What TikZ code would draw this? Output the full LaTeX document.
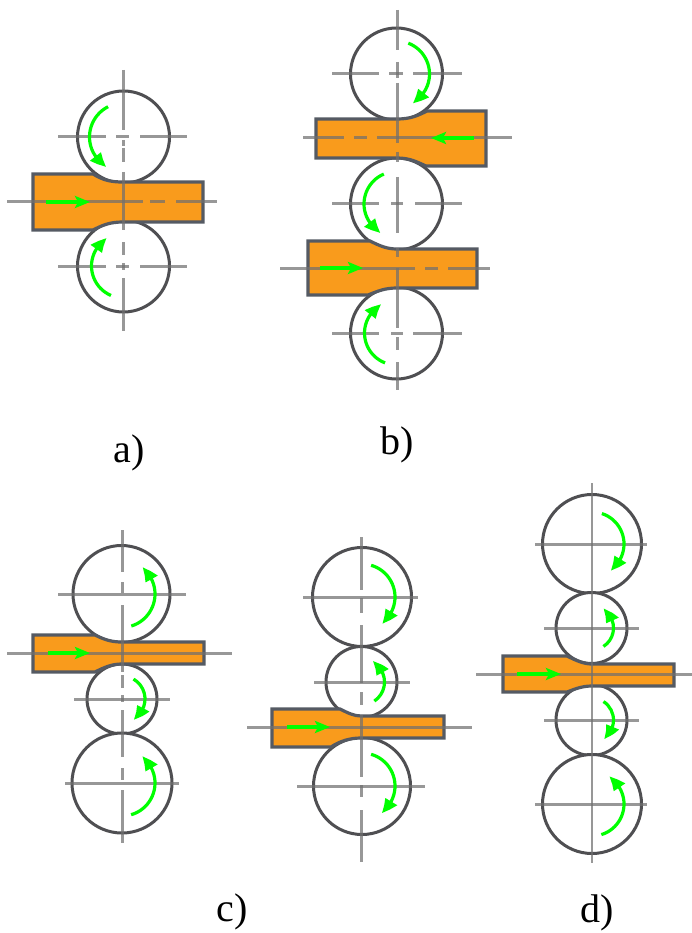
\documentclass[tikz,border=0pt]{standalone}
\usepackage{fontspec}
\setmainfont{Liberation Serif}
\usetikzlibrary{arrows.meta,calc,bending}
\definecolor{outl}{HTML}{4F4F52}
\definecolor{stripedge}{HTML}{555A63}
\definecolor{orangefill}{HTML}{F99B1C}
\definecolor{greenarrow}{HTML}{00FF00}
\definecolor{axisgrey}{HTML}{707070}
\tikzset{
  roll/.style={circle,draw=outl,line width=3pt,inner sep=0pt,fill=white},
  stripbox/.style={draw=stripedge,line width=3.2pt,fill=orangefill,line join=miter},
  axisline/.style={draw=axisgrey,opacity=.72,line width=3pt},
  turn/.style={draw=greenarrow,line width=3.2pt,-{Triangle[length=15pt,width=13pt,bend]}},
  feed/.style={draw=greenarrow,line width=3.2pt,-{Stealth[length=15pt,width=12pt,inset=3pt]}},
  lab/.style={font=\fontsize{40}{42}\selectfont,inner sep=0pt}
}
\newcommand{\rollat}[4]{\node[roll,minimum size=#4*2pt] (#1) at (#2,#3) {};}
\newcommand{\hseg}[2]{\foreach \a/\b in {#2}{\draw[axisline] (\a,#1) -- (\b,#1);}}
\newcommand{\vseg}[2]{\foreach \a/\b in {#2}{\draw[axisline] (#1,\a) -- (#1,\b);}}
% roll name, radius, start angle, end angle
\newcommand{\garc}[4]{\draw[turn] ($(#1.center)+(#3:#2pt)$) arc[start angle=#3,end angle=#4,radius=#2pt];}
\begin{document}
\begin{tikzpicture}[x=1pt,y=-1pt]
\useasboundingbox (0,0) rectangle (692,933);
% a
\rollat{aT}{123.5}{137}{46}
\rollat{aB}{123.5}{266}{46}
\path[stripbox] (33,174) -- (93,174) .. controls (103,180) and (110,182) .. (123,182) -- (203,182) -- (203,222) -- (123,222) .. controls (110,222) and (103,225) .. (93,230) -- (33,230) -- cycle;
\vseg{123}{70/130,140/146,148/162,172/230,242/255,263/270,278/331}
\hseg{137}{58/106,116/129,140/187}
\hseg{266}{58/106,116/129,140/187}
\hseg{202}{7/143,150/165,176/217}
\garc{aT}{34}{117}{240}
\garc{aB}{32}{247}{121}
\draw[feed] (46,202) -- (90,202);
\node[lab] (la) at (129,453) {a)};
% b
\rollat{bT}{396.5}{74}{46}
\rollat{bM}{396.5}{204}{46}
\rollat{bB}{396.5}{333}{46}
\path[stripbox] (316,119) -- (397,119) .. controls (410,119) and (417,116) .. (427,111) -- (486,111) -- (486,166) -- (426,166) .. controls (417,162) and (410,158) .. (397,158) -- (316,158) -- cycle;
\path[stripbox] (308,241) -- (370,241) .. controls (380,246) and (387,249) .. (397,249) -- (477,249) -- (477,288) -- (397,288) .. controls (385,288) and (378,291) .. (368,295) -- (308,295) -- cycle;
\vseg{397}{10/50,62/78,83/143,152/162,177/233,248/257,268/328,337/350,362/390}
\hseg{74}{332/379,389/403,413/462}
\hseg{204}{332/379,391/403,415/462}
\hseg{333}{332/379,391/403,413/462}
\hseg{138}{303/344,354/367,377/512}
\hseg{268}{280/415,425/438,448/490}
\garc{bT}{33}{69}{-61}
\garc{bM}{32.5}{113}{241}
\garc{bB}{32}{249}{118}
\draw[feed] (474,138) -- (431,138);
\draw[feed] (320,268) -- (363,268);
\node[lab] (lb) at (397,445) {b)};
% c
\rollat{cT}{121.5}{594}{48.5}
\rollat{cM}{122}{699}{35}
\rollat{cB}{122}{783}{50}
\path[stripbox] (33,635) -- (95,635) .. controls (105,640) and (112,642) .. (122,642) -- (204,642) -- (204,664) -- (122,664) .. controls (112,664) and (105,667) .. (95,672) -- (33,672) -- cycle;
\vseg{122}{530/572,582/593,605/672,675/688,695/702,710/757,768/780,790/843}
\hseg{594}{58/186}
\hseg{699}{74/170}
\hseg{783}{65/179}
\hseg{653}{7/232}
\garc{cT}{33.5}{-73}{52}
\garc{cM}{23}{60}{-61}
\garc{cB}{33}{-74}{53}
\draw[feed] (48,653) -- (90,653);
\node[lab] (lc) at (232,912) {c)};
% c2
\rollat{eT}{362}{597}{49.5}
\rollat{eM}{361.5}{682}{35.5}
\rollat{eB}{362}{786}{48.5}
\path[stripbox] (272,709) -- (340,709) .. controls (348,713) and (354,716) .. (361,716) -- (444,716) -- (444,738) -- (361,738) .. controls (350,738) and (340,741) .. (331,747) -- (272,747) -- cycle;
\vseg{361}{537/590,598/613,625/683,692/705,715/777,785/797,810/862}
\hseg{597}{303/418}
\hseg{682}{314/410}
\hseg{786}{297/425}
\hseg{727}{247/472}
\garc{eT}{33}{74}{-53}
\garc{eM}{23}{-56}{62}
\garc{eB}{33}{74}{-54}
\draw[feed] (287,727) -- (330,727);
% d
\rollat{dT}{592}{544}{49.5}
\rollat{dU}{591.5}{628}{35.5}
\rollat{dL}{591.5}{720}{35.5}
\rollat{dB}{592}{804}{49.5}
\path[stripbox] (503,656) -- (567,656) .. controls (577,661) and (584,664) .. (592,664) -- (674,664) -- (674,686) -- (592,686) .. controls (582,686) and (575,689) .. (567,692) -- (503,692) -- cycle;
\begin{scope}[axisline/.append style={line width=2.2pt}]
\vseg{592}{483/863}
\end{scope}
\hseg{544}{535/647}
\hseg{628}{544/639}
\hseg{720}{544/639}
\hseg{804}{535/647}
\hseg{674}{476/692}
\garc{dT}{32}{72}{-55}
\garc{dU}{22}{-57}{59}
\garc{dL}{22}{57}{-57}
\garc{dB}{32}{-73}{58}
\draw[feed] (517,674) -- (561,674);
\node[lab] (ld) at (597,913) {d)};
\end{tikzpicture}
\end{document}
